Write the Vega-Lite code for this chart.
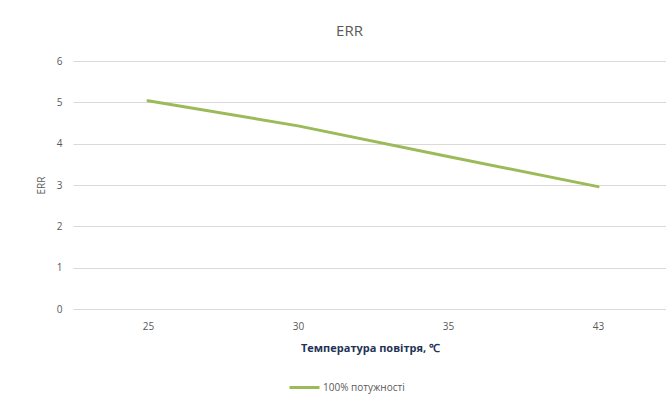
{
  "$schema": "https://vega.github.io/schema/vega-lite/v6.json",
  "width": 593,
  "height": 248,
  "autosize": {"type": "none"},
  "padding": {"left": 73, "top": 61, "right": 0, "bottom": 95},
  "background": "#ffffff",
  "title": {
    "text": "ERR",
    "font": "Open Sans",
    "fontSize": 15,
    "fontWeight": "normal",
    "color": "#595959",
    "anchor": "middle",
    "frame": "group",
    "dx": -20,
    "offset": 17
  },
  "data": {
    "values": [
      {"t": 25, "err": 5.04, "series": "100% потужності"},
      {"t": 30, "err": 4.43, "series": "100% потужності"},
      {"t": 35, "err": 3.69, "series": "100% потужності"},
      {"t": 43, "err": 2.96, "series": "100% потужності"}
    ]
  },
  "mark": {"type": "line", "strokeWidth": 3, "strokeCap": "round"},
  "encoding": {
    "x": {
      "field": "t",
      "type": "ordinal",
      "scale": {"range": [0, 600], "padding": 0.5},
      "axis": {
        "title": "Температура повітря, ℃",
        "labelAngle": 0,
        "labelFont": "Open Sans",
        "labelFontSize": 10,
        "labelColor": "#595959",
        "labelPadding": 12,
        "ticks": false,
        "domain": false,
        "grid": false,
        "titleFont": "Open Sans",
        "titleFontSize": 11,
        "titleFontWeight": "bold",
        "titleColor": "#1F3356",
        "titlePadding": 11,
        "titleAnchor": "middle",
        "titleX": 297
      }
    },
    "y": {
      "field": "err",
      "type": "quantitative",
      "scale": {"domain": [0, 6], "nice": false},
      "axis": {
        "title": "ERR",
        "values": [0, 1, 2, 3, 4, 5, 6],
        "labelFont": "Open Sans",
        "labelFontSize": 10,
        "labelColor": "#595959",
        "labelPadding": 11,
        "ticks": false,
        "domain": false,
        "grid": true,
        "gridColor": "#D9D9D9",
        "gridWidth": 1,
        "titleFont": "Open Sans",
        "titleFontSize": 10,
        "titleFontWeight": "normal",
        "titleColor": "#595959",
        "titlePadding": 10
      }
    },
    "color": {
      "field": "series",
      "type": "nominal",
      "scale": {"range": ["#9BBB59"]},
      "legend": {
        "title": null,
        "orient": "none",
        "legendX": 215,
        "legendY": 310,
        "direction": "horizontal",
        "symbolType": "stroke",
        "symbolSize": 900,
        "symbolStrokeWidth": 3,
        "labelFont": "Open Sans",
        "labelFontSize": 10,
        "labelColor": "#595959",
        "labelOffset": 2
      }
    }
  },
  "config": {
    "view": {"stroke": null}
  }
}
